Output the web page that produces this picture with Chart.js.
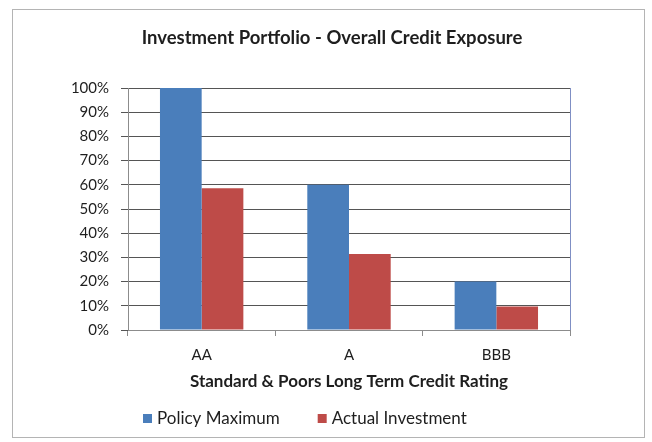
<!DOCTYPE html>
<html>
<head>
<meta charset="utf-8">
<script src="https://cdn.jsdelivr.net/npm/chart.js@4.4.0/dist/chart.umd.min.js"></script>
<style>
    html, body { margin: 0; padding: 0; background: #fff; }
    #wrap { width: 652px; height: 442px; position: relative; }
</style>
</head>
<body>
<div id="wrap"><canvas id="chart-exposure"></canvas></div>
<script>
const categories = ['AA', 'A', 'BBB'];
const policyMaximum = [100, 60, 20];
const actualInvestment = [58.6, 31.4, 9.7];
const yTicks = [0, 10, 20, 30, 40, 50, 60, 70, 80, 90, 100];

// moldura externa + borda direita azulada da area do grafico
const frame = {
    id: 'frame',
    beforeDraw(chart) {
        const ctx = chart.ctx;
        ctx.save();
        ctx.fillStyle = '#fff';
        ctx.fillRect(0, 0, chart.width, chart.height);
        ctx.restore();
    },
    afterDraw(chart) {
        const ctx = chart.ctx;
        const a = chart.chartArea;
        ctx.save();
        ctx.strokeStyle = '#b4b4b4';
        ctx.lineWidth = 1;
        ctx.strokeRect(12.5, 9.5, 632, 428);
        ctx.strokeStyle = '#7f8fc4';
        ctx.beginPath();
        ctx.moveTo(Math.round(a.right) + 0.5, a.top);
        ctx.lineTo(Math.round(a.right) + 0.5, a.bottom);
        ctx.stroke();
        ctx.restore();
    }
};

// legenda desenhada a mao, estilo Excel (quadrado pequeno, itens bem separados)
const excelLegend = {
    id: 'excelLegend',
    afterDraw(chart) {
        const ctx = chart.ctx;
        const y = 419;
        let x = 143;
        ctx.save();
        ctx.font = '17px Lato';
        ctx.textBaseline = 'middle';
        ctx.textAlign = 'left';
        chart.data.datasets.forEach(ds => {
            ctx.fillStyle = ds.backgroundColor;
            ctx.fillRect(x, y - 5, 9, 9);
            x += 14;
            ctx.fillStyle = '#1e1e1e';
            ctx.fillText(ds.label, x, y);
            x += ctx.measureText(ds.label).width + 38;
        });
        ctx.restore();
    }
};

// o titulo fica um pouco a direita do centro da area livre
const titleShift = {
    id: 'titleShift',
    afterLayout(chart) {
        chart.titleBlock.left += 41;
        chart.titleBlock.right += 41;
    }
};

Chart.defaults.font.family = 'Lato';
Chart.defaults.color = '#1e1e1e';

const ctx = document.getElementById('chart-exposure').getContext('2d');
const chart = new Chart(ctx, {
    type: 'bar',
    data: {
        labels: categories,
        datasets: [{
            label: 'Policy Maximum',
            data: policyMaximum,
            backgroundColor: '#4a7ebb'
        }, {
            label: 'Actual Investment',
            data: actualInvestment,
            backgroundColor: '#be4b48'
        }]
    },
    options: {
        responsive: true,
        maintainAspectRatio: false,
        animation: false,
        layout: {
            padding: { left: 12, right: 82, top: 0, bottom: 41 }
        },
        datasets: {
            bar: { barPercentage: 1, categoryPercentage: 0.566 }
        },
        plugins: {
            title: {
                display: true,
                text: 'Investment Portfolio - Overall Credit Exposure',
                font: { size: 18.5, weight: 'bold' },
                padding: { top: 27, bottom: 38.8 }
            },
            legend: { display: false },
            tooltip: { enabled: false }
        },
        scales: {
            x: {
                grid: {
                    display: true,
                    drawOnChartArea: false,
                    drawTicks: true,
                    tickLength: 6,
                    color: '#8c8c8c'
                },
                border: { color: '#8c8c8c' },
                ticks: { font: { size: 15 }, padding: 10 },
                title: {
                    display: true,
                    text: 'Standard & Poors Long Term Credit Rating',
                    font: { size: 17, weight: 'bold' },
                    padding: { top: 0, bottom: 9.3 }
                },
                afterFit(scale) { scale.height = 71; }
            },
            y: {
                min: 0,
                max: 100,
                afterBuildTicks(scale) {
                    scale.ticks = yTicks.map(v => ({ value: v }));
                },
                grid: {
                    color: '#555',
                    tickLength: 7
                },
                border: { color: '#8c8c8c' },
                ticks: {
                    font: { size: 15 },
                    padding: 12,
                    callback: v => v + '%'
                },
                afterFit(scale) { scale.width = 116; }
            }
        }
    },
    plugins: [frame, excelLegend, titleShift]
});
</script>
</body>
</html>
